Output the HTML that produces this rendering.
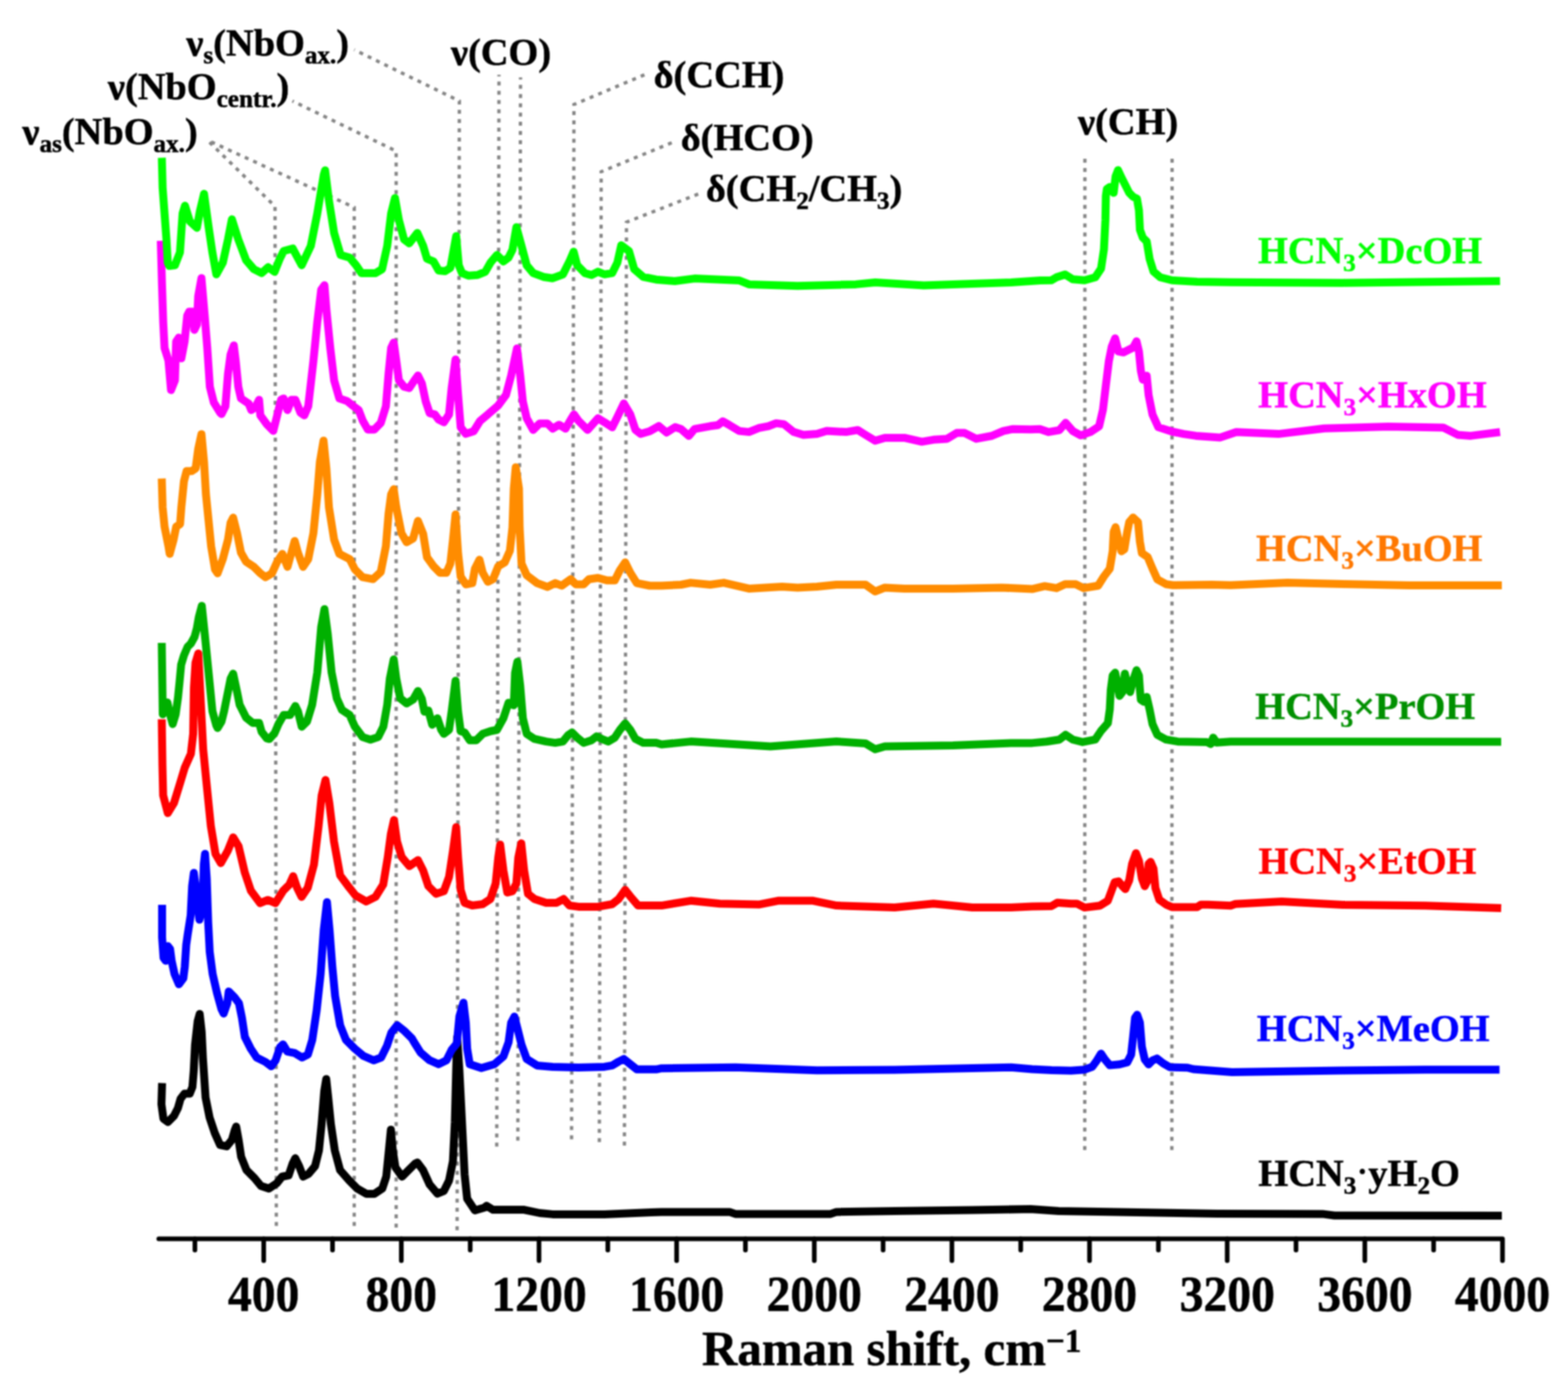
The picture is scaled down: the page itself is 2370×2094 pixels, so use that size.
<!DOCTYPE html>
<html><head><meta charset="utf-8"><title>Raman spectra</title>
<style>html,body{margin:0;padding:0;background:#fff;}svg{display:block;filter:blur(1px);}</style>
</head><body>
<svg width="2370" height="2094" viewBox="0 0 2370 2094">
<rect width="100%" height="100%" fill="#ffffff"/>
<polyline points="313.5,211.9 415.7,312.0 417.7,1853.5" fill="none" stroke="#858585" stroke-width="5" stroke-dasharray="6.0 7.95" stroke-dashoffset="9.39"/>
<polyline points="313.5,211.9 535.4,313.5 535.4,1853.5" fill="none" stroke="#858585" stroke-width="5" stroke-dasharray="6.0 7.95" stroke-dashoffset="7.55"/>
<polyline points="442.0,152.7 598.8,228.4 598.8,1856.0" fill="none" stroke="#858585" stroke-width="5" stroke-dasharray="6.0 7.95" stroke-dashoffset="3.83"/>
<polyline points="535.4,75.2 694.3,152.7 690.9,1860.0" fill="none" stroke="#858585" stroke-width="5" stroke-dasharray="6.0 7.95" stroke-dashoffset="5.15"/>
<polyline points="754.2,113.0 750.8,1733.6" fill="none" stroke="#858585" stroke-width="5" stroke-dasharray="6.0 7.95" stroke-dashoffset="3.60"/>
<polyline points="786.8,117.0 782.7,1724.6" fill="none" stroke="#858585" stroke-width="5" stroke-dasharray="6.0 7.95" stroke-dashoffset="2.64"/>
<polyline points="974.7,112.8 867.5,158.0 863.9,1722.4" fill="none" stroke="#858585" stroke-width="5" stroke-dasharray="6.0 7.95" stroke-dashoffset="13.21"/>
<polyline points="1015.8,215.6 908.7,259.6 905.9,1726.7" fill="none" stroke="#858585" stroke-width="5" stroke-dasharray="6.0 7.95" stroke-dashoffset="13.41"/>
<polyline points="1055.5,293.3 946.9,335.9 943.8,1732.0" fill="none" stroke="#858585" stroke-width="5" stroke-dasharray="6.0 7.95" stroke-dashoffset="13.79"/>
<polyline points="1639.8,240.0 1639.6,1745.0" fill="none" stroke="#858585" stroke-width="5" stroke-dasharray="6.0 7.95" stroke-dashoffset="0.00"/>
<polyline points="1771.6,240.0 1771.2,1745.0" fill="none" stroke="#858585" stroke-width="5" stroke-dasharray="6.0 7.95" stroke-dashoffset="0.00"/>
<g stroke="#000" stroke-width="7" fill="none" stroke-linecap="round" stroke-linejoin="round">
<polyline points="240,1873 2271.0,1873 2271.0,1906"/>
<line x1="398.6" y1="1873" x2="398.6" y2="1906"/>
<line x1="606.6" y1="1873" x2="606.6" y2="1906"/>
<line x1="814.7" y1="1873" x2="814.7" y2="1906"/>
<line x1="1022.7" y1="1873" x2="1022.7" y2="1906"/>
<line x1="1230.8" y1="1873" x2="1230.8" y2="1906"/>
<line x1="1438.8" y1="1873" x2="1438.8" y2="1906"/>
<line x1="1646.8" y1="1873" x2="1646.8" y2="1906"/>
<line x1="1854.9" y1="1873" x2="1854.9" y2="1906"/>
<line x1="2062.9" y1="1873" x2="2062.9" y2="1906"/>
<line x1="294.6" y1="1873" x2="294.6" y2="1890"/>
<line x1="502.6" y1="1873" x2="502.6" y2="1890"/>
<line x1="710.7" y1="1873" x2="710.7" y2="1890"/>
<line x1="918.7" y1="1873" x2="918.7" y2="1890"/>
<line x1="1126.7" y1="1873" x2="1126.7" y2="1890"/>
<line x1="1334.8" y1="1873" x2="1334.8" y2="1890"/>
<line x1="1542.8" y1="1873" x2="1542.8" y2="1890"/>
<line x1="1750.9" y1="1873" x2="1750.9" y2="1890"/>
<line x1="1958.9" y1="1873" x2="1958.9" y2="1890"/>
<line x1="2166.9" y1="1873" x2="2166.9" y2="1890"/>
</g>
<polyline points="245.0,1637.5 244.0,1669.4 247.0,1691.3 253.9,1696.3 262.9,1687.3 268.9,1675.4 272.9,1661.4 278.8,1653.5 286.8,1653.5 290.8,1643.5 292.8,1619.6 294.8,1579.7 298.8,1543.8 301.8,1533.0 304.8,1559.8 306.7,1599.7 310.7,1659.4 316.7,1689.3 324.7,1713.3 332.7,1731.2 342.6,1733.2 350.6,1723.2 354.6,1709.3 357.0,1703.3 360.6,1723.2 364.5,1749.1 372.5,1769.1 384.5,1781.0 394.4,1793.0 406.4,1797.0 418.4,1789.0 426.3,1779.0 436.3,1777.0 442.3,1759.1 446.3,1751.1 452.2,1763.1 458.2,1779.0 466.2,1775.0 476.2,1763.1 482.1,1739.2 486.1,1699.3 490.1,1649.5 493.1,1631.5 496.1,1659.4 500.1,1699.3 506.0,1739.2 514.0,1769.1 528.0,1785.0 539.9,1797.0 553.9,1804.9 565.8,1804.9 577.8,1797.0 583.8,1779.0 587.8,1739.2 590.8,1708.0 593.7,1739.2 597.7,1765.1 607.7,1779.0 617.7,1769.1 627.6,1759.1 630.8,1757.6 639.6,1769.4 649.4,1790.9 661.1,1804.6 670.9,1800.7 678.7,1785.0 684.6,1755.7 687.5,1697.0 689.5,1618.7 691.0,1568.0 694.4,1618.7 698.3,1697.0 702.2,1775.3 706.1,1812.4 717.8,1830.0 731.5,1826.1 735.5,1823.2 745.2,1829.1 792.2,1829.1 815.7,1834.0 835.3,1835.9 913.5,1835.9 984.0,1833.0 1000.0,1832.4 1102.7,1832.4 1111.5,1835.4 1255.4,1835.4 1264.2,1832.4 1352.2,1831.0 1469.6,1829.5 1557.7,1828.0 1600.0,1831.0 1780.0,1834.0 1840.0,1835.0 1999.0,1835.4 2017.0,1837.7 2270.0,1838.0" fill="none" stroke="#000000" stroke-width="12" stroke-linejoin="round" stroke-linecap="butt"/>
<polyline points="245.0,1368.0 245.0,1417.2 247.2,1448.2 250.5,1452.6 253.8,1430.5 257.1,1434.9 259.4,1452.6 263.8,1472.6 270.4,1488.1 277.1,1479.2 279.3,1461.5 281.5,1428.3 283.7,1412.8 288.2,1384.0 290.4,1339.7 293.0,1319.7 297.0,1350.7 301.4,1390.6 305.9,1372.9 308.1,1306.4 309.9,1291.0 312.5,1328.6 314.7,1395.0 317.0,1439.3 321.4,1472.6 328.0,1501.3 334.7,1525.7 338.0,1532.4 343.5,1516.9 345.7,1499.1 354.6,1508.0 361.2,1516.9 365.7,1539.0 370.1,1567.8 379.0,1585.5 387.8,1598.8 401.1,1605.5 410.0,1612.1 416.6,1603.2 423.3,1583.3 427.7,1578.9 434.3,1589.9 445.4,1592.2 456.5,1598.8 465.3,1594.4 472.0,1572.2 478.6,1527.9 484.6,1472.6 489.3,1406.1 494.2,1364.0 498.1,1406.1 502.3,1461.5 506.5,1505.8 514.1,1550.1 522.9,1572.2 536.2,1585.5 549.5,1596.6 565.0,1603.2 576.1,1598.8 584.9,1581.1 591.6,1561.2 600.4,1550.1 611.5,1558.9 622.6,1570.0 625.9,1575.7 635.7,1591.4 649.4,1603.1 663.0,1609.0 674.8,1603.1 682.6,1587.4 690.5,1577.7 694.4,1536.6 700.5,1516.0 704.1,1546.3 706.1,1585.5 710.0,1609.0 727.6,1614.8 747.2,1609.0 760.9,1597.2 768.7,1575.7 772.6,1546.3 777.5,1537.0 782.4,1556.1 788.3,1579.6 796.1,1601.1 811.8,1610.9 835.3,1612.9 874.4,1613.9 913.5,1612.9 925.3,1610.9 935.1,1605.0 942.9,1601.1 952.7,1609.0 962.5,1616.8 991.8,1616.8 1000.0,1615.2 1111.5,1613.8 1234.8,1618.2 1352.2,1617.6 1528.3,1613.8 1560.0,1616.5 1589.4,1618.0 1618.7,1618.7 1639.3,1617.2 1651.0,1612.8 1656.9,1604.8 1664.2,1593.0 1670.1,1601.8 1677.4,1610.6 1692.1,1609.2 1703.8,1606.2 1709.7,1594.5 1712.6,1568.1 1715.6,1538.7 1718.8,1534.3 1722.9,1546.0 1725.9,1582.7 1730.3,1601.8 1736.1,1609.2 1742.0,1603.3 1748.6,1600.4 1758.2,1607.7 1768.4,1613.6 1794.8,1614.3 1803.7,1616.5 1862.3,1621.0 2029.5,1618.5 2154.2,1617.2 2266.5,1617.2" fill="none" stroke="#0000ff" stroke-width="12" stroke-linejoin="round" stroke-linecap="butt"/>
<polyline points="244.5,972.0 245.3,1030.0 246.0,1080.0 249.0,1072.0 253.0,1062.0 257.0,1080.0 261.0,1094.8 265.5,1080.0 269.0,1055.0 271.5,1030.0 273.8,1005.0 278.0,991.0 283.5,978.0 288.5,973.0 294.0,963.0 297.5,950.0 300.5,933.0 305.0,916.0 309.4,957.8 313.3,997.0 317.2,1036.1 321.1,1075.3 327.0,1096.8 328.9,1100.7 334.8,1090.9 338.7,1075.3 344.6,1045.9 348.5,1026.3 352.4,1018.5 358.3,1045.9 362.2,1065.5 372.0,1085.0 381.8,1092.9 391.6,1092.9 395.5,1106.6 403.3,1116.4 407.2,1117.3 415.0,1108.5 420.9,1094.8 428.7,1081.1 438.5,1081.1 446.4,1067.4 450.3,1075.3 456.1,1098.7 464.0,1090.9 471.8,1065.5 479.6,1016.6 485.5,948.0 490.4,921.0 495.3,957.8 501.2,1016.6 509.0,1055.7 516.8,1073.3 528.5,1081.1 536.4,1098.7 548.1,1114.4 559.9,1118.3 571.6,1114.4 579.4,1098.7 585.3,1065.5 589.2,1026.3 595.1,997.0 599.0,1026.3 604.9,1055.7 614.6,1063.5 624.4,1057.7 631.7,1044.8 637.6,1056.6 641.5,1076.1 647.4,1074.2 653.3,1095.7 661.1,1085.9 667.0,1103.5 670.9,1109.4 678.7,1103.5 682.6,1076.1 688.5,1029.2 692.4,1076.1 696.3,1105.5 702.2,1107.4 710.0,1119.2 719.8,1119.2 729.6,1109.4 741.3,1105.5 751.1,1103.5 760.9,1085.9 768.7,1062.4 776.6,1066.3 778.5,1017.4 782.0,1000.5 786.3,1037.0 790.3,1085.9 796.1,1109.4 807.9,1117.2 825.5,1121.1 839.2,1123.1 850.9,1121.1 858.7,1111.4 864.6,1107.4 872.4,1115.3 882.2,1123.1 894.0,1119.2 901.8,1113.3 909.6,1117.2 919.4,1121.1 929.2,1115.3 937.0,1103.5 944.9,1093.7 952.7,1103.5 960.5,1117.2 972.3,1123.1 991.8,1123.1 1000.0,1125.5 1044.0,1121.1 1164.4,1128.4 1264.2,1121.1 1308.2,1124.0 1322.9,1132.8 1337.5,1128.4 1440.3,1127.0 1528.3,1123.4 1560.0,1123.4 1582.0,1121.2 1601.1,1118.2 1610.6,1110.9 1621.6,1118.2 1636.3,1121.9 1655.4,1118.2 1664.2,1105.0 1674.5,1093.3 1677.4,1072.7 1678.9,1043.4 1681.8,1021.4 1685.5,1017.0 1689.2,1036.0 1692.1,1052.2 1696.5,1046.3 1700.2,1018.4 1705.3,1040.5 1708.2,1046.3 1712.7,1028.7 1717.8,1013.3 1721.5,1021.4 1723.0,1043.4 1724.4,1058.1 1728.8,1061.0 1733.2,1053.7 1737.6,1072.7 1742.0,1094.8 1749.3,1110.9 1762.6,1118.2 1780.2,1121.2 1824.2,1121.9 1830.1,1124.9 1833.7,1115.3 1838.9,1122.7 1860.0,1121.2 2269.0,1121.5" fill="none" stroke="#00b000" stroke-width="12" stroke-linejoin="round" stroke-linecap="butt"/>
<polyline points="244.5,1087.5 245.5,1156.0 246.6,1202.6 253.6,1229.3 262.9,1214.2 272.2,1184.0 279.2,1160.7 288.5,1139.8 292.0,1109.5 293.1,1039.8 295.5,1002.0 299.7,988.0 302.4,1039.8 307.1,1132.8 311.7,1179.3 318.7,1249.1 325.7,1290.9 333.8,1304.9 344.3,1286.3 352.4,1266.0 360.6,1279.3 369.9,1318.8 379.2,1346.7 393.1,1365.3 404.8,1360.7 416.4,1365.3 428.0,1346.7 437.3,1337.4 443.1,1324.7 449.0,1342.1 455.9,1356.0 465.2,1342.1 474.5,1307.2 481.5,1249.1 486.2,1202.6 492.0,1179.3 497.8,1214.2 504.8,1272.3 514.1,1323.5 528.0,1342.1 537.3,1353.7 553.6,1363.0 567.6,1356.0 579.2,1337.4 586.2,1295.6 590.8,1260.7 595.5,1239.8 600.1,1272.3 607.1,1295.6 618.7,1309.5 631.7,1300.5 639.6,1316.1 647.4,1339.6 659.1,1351.4 670.9,1347.4 678.7,1325.9 684.6,1286.8 689.5,1250.6 692.4,1296.6 696.3,1345.5 702.2,1365.0 713.9,1369.0 729.6,1367.0 741.3,1359.2 749.2,1335.7 753.1,1296.6 756.0,1277.0 760.9,1316.1 766.8,1349.4 774.6,1347.4 780.5,1335.7 783.4,1296.6 787.9,1275.0 792.2,1316.1 798.1,1351.4 807.9,1359.2 825.5,1365.0 841.1,1365.0 851.9,1359.2 860.7,1369.0 874.4,1370.9 903.8,1370.9 925.3,1367.0 935.1,1359.2 944.9,1345.5 952.7,1355.3 964.4,1369.0 982.0,1369.0 1000.0,1369.1 1044.0,1361.8 1088.0,1366.2 1146.8,1367.6 1176.1,1361.8 1228.9,1361.8 1264.2,1369.1 1352.2,1372.0 1410.9,1366.2 1469.6,1372.0 1528.3,1372.0 1560.0,1370.6 1589.4,1369.9 1598.2,1364.8 1618.7,1366.2 1627.5,1366.2 1639.3,1372.1 1662.7,1369.2 1674.5,1361.8 1680.4,1345.7 1684.8,1333.9 1690.6,1332.5 1696.5,1339.8 1700.9,1344.2 1706.8,1331.0 1711.2,1306.0 1717.0,1289.9 1721.5,1301.6 1725.9,1328.1 1730.3,1339.8 1734.7,1331.0 1736.1,1306.0 1739.1,1303.1 1743.5,1313.4 1746.4,1342.7 1752.3,1360.4 1762.6,1367.7 1771.4,1371.4 1809.5,1371.4 1815.4,1367.7 1825.7,1367.7 1860.0,1369.2 1867.3,1366.8 1937.2,1363.1 2029.5,1368.0 2154.2,1369.3 2269.0,1373.0" fill="none" stroke="#ff0000" stroke-width="12" stroke-linejoin="round" stroke-linecap="butt"/>
<polyline points="244.5,723.5 245.8,767.0 248.7,796.3 254.6,825.7 256.5,837.4 262.4,815.9 266.3,796.3 272.2,792.4 274.1,767.0 278.0,727.8 282.0,712.2 289.8,712.2 295.7,708.3 299.6,678.9 304.5,656.4 308.4,698.5 311.3,747.4 315.2,786.6 319.1,825.7 325.0,860.9 328.9,866.8 336.8,845.3 344.6,815.9 348.5,790.5 352.4,782.6 358.3,806.1 364.2,835.5 372.0,849.2 383.7,857.0 393.5,866.8 401.3,872.7 411.1,866.8 419.0,849.2 426.8,837.4 434.6,857.0 440.5,835.5 445.4,817.9 450.3,835.5 458.1,857.0 465.9,845.3 473.7,806.1 479.6,747.4 483.5,698.5 489.0,666.2 493.3,708.3 497.2,767.0 505.0,815.9 512.9,837.4 528.5,845.3 536.4,860.9 548.1,872.7 563.8,875.6 575.5,864.8 583.3,825.7 587.3,776.8 591.2,747.4 595.1,739.6 599.0,767.0 606.8,806.1 614.6,819.8 624.4,814.0 631.7,787.6 639.6,807.2 645.4,842.4 655.2,856.1 665.0,865.9 674.8,865.9 680.7,852.2 684.6,817.0 688.5,777.8 692.4,836.6 696.3,871.8 704.1,883.5 713.9,881.6 717.8,860.0 724.7,846.3 729.6,865.9 737.4,879.6 745.2,875.7 753.1,856.1 762.9,850.3 770.7,832.6 774.6,797.4 776.6,738.7 779.5,706.4 784.4,738.7 785.4,797.4 788.3,852.2 796.1,869.8 811.8,881.6 827.4,887.4 839.2,881.6 849.0,885.5 862.7,875.7 870.5,883.5 882.2,883.5 890.1,875.7 903.8,873.7 917.5,877.6 929.2,877.6 937.0,862.0 944.9,850.3 952.7,865.9 962.5,881.6 982.0,885.5 1000.0,885.5 1029.4,884.0 1044.0,881.1 1073.4,884.0 1093.9,881.1 1132.0,889.9 1182.0,887.0 1205.5,888.4 1234.8,887.0 1264.2,884.0 1308.2,884.0 1322.9,894.3 1337.5,888.4 1366.9,889.9 1440.3,889.9 1513.6,888.4 1560.0,890.6 1579.1,886.2 1596.7,889.2 1609.9,883.3 1626.0,883.3 1637.8,889.2 1659.8,885.5 1668.6,871.5 1677.4,859.8 1681.8,833.4 1683.3,804.0 1686.2,797.0 1690.6,815.8 1695.0,833.4 1699.4,830.5 1703.8,804.0 1706.8,789.4 1712.7,782.5 1720.0,789.4 1722.9,818.7 1725.9,836.3 1734.7,842.2 1742.0,859.8 1749.3,876.0 1762.6,883.3 1772.8,884.8 1831.5,884.0 1860.0,884.8 1946.0,881.0 2029.2,883.0 2130.0,885.0 2270.0,885.0" fill="none" stroke="#ff8c00" stroke-width="12" stroke-linejoin="round" stroke-linecap="butt"/>
<polyline points="243.0,364.0 244.8,428.3 246.7,487.0 248.7,526.1 254.6,545.0 258.5,589.7 264.4,575.0 266.3,516.3 270.2,510.5 274.1,541.8 279.0,516.3 283.0,477.2 285.9,471.3 291.8,471.3 293.7,498.7 297.6,490.9 299.6,447.8 304.5,420.5 309.4,477.2 313.3,526.1 317.2,584.8 323.1,608.3 332.8,624.0 334.8,626.0 340.7,614.2 344.6,565.3 348.5,535.9 353.4,522.2 356.3,545.7 360.2,584.8 364.2,602.4 375.9,610.3 379.8,620.0 385.7,616.1 391.6,604.4 393.5,627.9 403.3,641.6 413.1,651.4 419.0,627.9 424.8,604.4 428.7,602.4 434.6,620.0 440.5,604.4 446.4,604.4 454.2,624.0 460.0,627.9 465.9,614.2 473.7,545.7 479.6,487.0 485.5,438.0 490.4,431.2 493.3,467.4 499.2,526.1 505.0,575.0 512.9,602.4 524.6,606.4 534.4,614.2 542.2,620.0 548.1,635.7 555.9,649.4 565.7,649.4 575.5,639.6 583.3,614.2 587.3,565.3 591.2,526.1 595.1,517.9 599.0,545.7 602.9,575.0 610.7,584.8 618.6,586.8 626.4,575.0 631.7,567.8 637.6,579.6 643.5,607.0 649.4,624.6 657.2,626.6 663.0,634.4 670.9,638.3 678.7,626.6 682.6,587.4 688.5,543.4 692.4,597.2 696.3,646.1 704.1,655.9 715.9,652.0 725.7,636.3 737.4,626.6 753.1,612.9 764.8,597.2 772.6,567.8 781.4,526.8 786.3,567.8 790.3,607.0 796.1,632.4 805.9,650.0 815.7,640.3 827.4,640.3 835.3,648.1 845.0,642.2 854.8,648.1 862.7,634.4 867.5,626.6 874.4,636.3 888.1,650.0 903.8,632.4 913.5,638.3 925.3,646.1 933.1,630.5 942.9,610.0 952.7,626.6 960.5,650.0 968.3,655.9 982.0,652.0 995.7,644.2 1007.5,654.0 1020.5,645.8 1029.4,648.7 1041.1,659.0 1049.9,648.7 1073.4,644.3 1085.1,642.8 1092.5,637.0 1102.7,642.8 1117.4,651.6 1132.1,653.1 1146.8,647.2 1161.4,644.3 1173.2,639.9 1184.9,641.4 1199.6,653.1 1214.3,657.5 1234.8,656.0 1249.5,651.6 1278.8,653.1 1296.4,650.2 1308.2,657.5 1322.9,666.3 1337.5,661.9 1366.9,661.9 1393.3,667.8 1410.9,664.8 1431.5,663.4 1446.1,654.6 1457.9,654.6 1475.5,663.4 1499.0,659.0 1516.6,651.6 1531.3,648.7 1557.7,649.3 1571.7,648.8 1585.0,653.2 1601.1,650.3 1610.6,639.3 1621.6,651.7 1633.4,658.3 1648.1,653.2 1661.3,644.4 1667.1,619.4 1671.5,582.7 1676.0,546.0 1680.4,524.0 1685.5,511.6 1690.6,531.4 1698.0,532.8 1706.8,528.4 1712.7,525.5 1717.8,516.0 1721.5,531.4 1724.4,560.7 1727.3,573.9 1733.2,568.0 1736.1,597.4 1742.0,626.8 1750.8,645.9 1771.4,652.5 1789.0,656.1 1807.7,658.9 1843.7,661.6 1868.6,653.3 1932.3,656.1 2001.5,647.8 2098.4,645.0 2181.4,646.4 2203.6,657.5 2223.0,658.9 2267.3,653.3" fill="none" stroke="#ff00ff" stroke-width="12" stroke-linejoin="round" stroke-linecap="butt"/>
<polyline points="244.6,238.5 245.8,283.7 248.7,322.8 251.6,362.0 253.6,397.2 256.0,402.0 264.4,401.0 272.0,381.6 276.0,322.8 279.6,311.0 286.9,334.6 297.6,344.4 302.0,320.0 308.4,293.0 315.2,342.4 321.0,381.6 327.0,414.8 336.8,397.2 344.6,362.0 350.5,331.6 360.2,362.0 372.0,393.3 383.7,407.0 395.5,412.9 405.3,404.0 415.0,411.0 422.9,391.3 428.7,379.6 442.4,375.7 456.0,401.0 469.8,371.8 479.6,322.8 489.4,264.1 491.4,257.5 497.2,303.3 505.0,352.2 514.8,385.5 528.5,389.4 538.3,401.1 546.2,412.9 567.7,412.9 577.5,407.0 585.3,371.8 591.2,322.8 597.0,299.4 602.9,332.6 610.7,362.0 618.6,367.9 630.8,352.2 639.6,371.8 645.4,391.3 655.2,395.3 663.0,409.0 672.8,410.0 680.7,405.0 689.5,357.0 693.4,401.0 698.3,412.9 708.0,416.8 721.8,415.8 733.5,410.9 741.3,397.2 751.1,385.5 760.9,395.3 768.7,389.4 774.6,377.6 780.5,343.4 788.3,371.8 796.1,401.1 805.9,412.9 821.6,418.7 835.3,420.7 850.9,414.8 860.7,395.3 867.0,380.6 872.4,401.1 884.2,412.9 894.0,415.8 903.8,410.9 913.5,414.8 925.3,412.9 933.1,397.2 939.0,370.8 950.7,379.6 958.6,407.0 972.3,418.7 991.8,422.7 1020.0,425.0 1049.9,421.1 1117.4,424.0 1132.1,429.9 1205.5,432.2 1293.5,429.9 1322.9,427.0 1396.2,431.4 1528.3,427.0 1572.4,424.0 1589.4,423.7 1596.7,419.3 1609.9,415.0 1621.6,422.3 1639.3,423.7 1655.4,419.3 1664.2,406.1 1668.6,376.8 1670.8,332.7 1671.5,296.0 1673.0,285.8 1677.4,282.8 1683.3,291.6 1686.2,266.7 1689.9,257.2 1695.0,268.2 1700.9,279.9 1706.8,291.6 1712.7,297.5 1718.5,300.4 1721.5,318.0 1723.0,347.4 1727.3,359.2 1733.2,365.0 1737.6,391.5 1743.5,410.5 1753.7,419.3 1771.4,423.7 1809.5,426.0 1860.0,426.7 2029.0,427.7 2267.3,424.9" fill="none" stroke="#00ff00" stroke-width="12" stroke-linejoin="round" stroke-linecap="butt"/>
<g font-family="'Liberation Serif','Times New Roman',serif" font-weight="bold" stroke-width="0.7" font-size="72" text-anchor="middle" fill="#000" stroke="#000">
<text transform="translate(398.6,1981.5) scale(1,1.07)">400</text>
<text transform="translate(606.6,1981.5) scale(1,1.07)">800</text>
<text transform="translate(814.7,1981.5) scale(1,1.07)">1200</text>
<text transform="translate(1022.7,1981.5) scale(1,1.07)">1600</text>
<text transform="translate(1230.8,1981.5) scale(1,1.07)">2000</text>
<text transform="translate(1438.8,1981.5) scale(1,1.07)">2400</text>
<text transform="translate(1646.8,1981.5) scale(1,1.07)">2800</text>
<text transform="translate(1854.9,1981.5) scale(1,1.07)">3200</text>
<text transform="translate(2062.9,1981.5) scale(1,1.07)">3600</text>
<text transform="translate(2271.0,1981.5) scale(1,1.07)">4000</text>
</g>
<text font-family="'Liberation Serif','Times New Roman',serif" font-weight="bold" stroke-width="0.7" font-size="74" fill="#000" stroke="#000" x="1061" y="2064">Raman shift, cm<tspan font-size="50" dy="-20">−1</tspan></text>
<text font-family="'Liberation Serif','Times New Roman',serif" font-weight="bold" stroke-width="0.7" font-size="58" fill="#000" stroke="#000" x="281.5" y="84">ν<tspan font-size="38" dy="12">s</tspan><tspan dy="-12">(NbO</tspan><tspan font-size="38" dy="12">ax.</tspan><tspan dy="-12">)</tspan></text>
<text font-family="'Liberation Serif','Times New Roman',serif" font-weight="bold" stroke-width="0.7" font-size="58" fill="#000" stroke="#000" x="163" y="150.3">ν(NbO<tspan font-size="38" dy="12">centr.</tspan><tspan dy="-12">)</tspan></text>
<text font-family="'Liberation Serif','Times New Roman',serif" font-weight="bold" stroke-width="0.7" font-size="58" fill="#000" stroke="#000" x="33.8" y="217.8">ν<tspan font-size="38" dy="12">as</tspan><tspan dy="-12">(NbO</tspan><tspan font-size="38" dy="12">ax.</tspan><tspan dy="-12">)</tspan></text>
<text font-family="'Liberation Serif','Times New Roman',serif" font-weight="bold" stroke-width="0.7" font-size="58" fill="#000" stroke="#000" x="681.5" y="98">ν(CO)</text>
<text font-family="'Liberation Serif','Times New Roman',serif" font-weight="bold" stroke-width="0.7" font-size="58" fill="#000" stroke="#000" x="988" y="131.9">δ(CCH)</text>
<text font-family="'Liberation Serif','Times New Roman',serif" font-weight="bold" stroke-width="0.7" font-size="58" fill="#000" stroke="#000" x="1029" y="227.3">δ(HCO)</text>
<text font-family="'Liberation Serif','Times New Roman',serif" font-weight="bold" stroke-width="0.7" font-size="58" fill="#000" stroke="#000" x="1067" y="303.6">δ(CH<tspan font-size="38" dy="12">2</tspan><tspan dy="-12">/CH</tspan><tspan font-size="38" dy="12">3</tspan><tspan dy="-12">)</tspan></text>
<text font-family="'Liberation Serif','Times New Roman',serif" font-weight="bold" stroke-width="0.7" font-size="58" fill="#000" stroke="#000" x="1629.3" y="202.7">ν(CH)</text>
<text font-family="'Liberation Serif','Times New Roman',serif" font-weight="bold" stroke-width="0.7" font-size="58" fill="#00ff00" stroke="#00ff00" x="1901.4" y="398.1">HCN<tspan font-size="38" dy="12">3</tspan><tspan dy="-12">×DcOH</tspan></text>
<text font-family="'Liberation Serif','Times New Roman',serif" font-weight="bold" stroke-width="0.7" font-size="58" fill="#ff00ff" stroke="#ff00ff" x="1901.8" y="616">HCN<tspan font-size="38" dy="12">3</tspan><tspan dy="-12">×HxOH</tspan></text>
<text font-family="'Liberation Serif','Times New Roman',serif" font-weight="bold" stroke-width="0.7" font-size="58" fill="#ff7800" stroke="#ff7800" x="1898.5" y="847.5">HCN<tspan font-size="38" dy="12">3</tspan><tspan dy="-12">×BuOH</tspan></text>
<text font-family="'Liberation Serif','Times New Roman',serif" font-weight="bold" stroke-width="0.7" font-size="58" fill="#009000" stroke="#009000" x="1897.3" y="1087.4">HCN<tspan font-size="38" dy="12">3</tspan><tspan dy="-12">×PrOH</tspan></text>
<text font-family="'Liberation Serif','Times New Roman',serif" font-weight="bold" stroke-width="0.7" font-size="58" fill="#ff0000" stroke="#ff0000" x="1902.3" y="1320.7">HCN<tspan font-size="38" dy="12">3</tspan><tspan dy="-12">×EtOH</tspan></text>
<text font-family="'Liberation Serif','Times New Roman',serif" font-weight="bold" stroke-width="0.7" font-size="58" fill="#0000ff" stroke="#0000ff" x="1899.8" y="1573.6">HCN<tspan font-size="38" dy="12">3</tspan><tspan dy="-12">×MeOH</tspan></text>
<text font-family="'Liberation Serif','Times New Roman',serif" font-weight="bold" stroke-width="0.7" font-size="58" fill="#000000" stroke="#000000" x="1902.1" y="1792.5">HCN<tspan font-size="38" dy="12">3</tspan><tspan font-size="46" dx="1.5" dy="-18">·</tspan><tspan font-size="58" dx="1.5" dy="6">yH</tspan><tspan font-size="38" dy="12">2</tspan><tspan dy="-12">O</tspan></text>
</svg>
</body></html>
